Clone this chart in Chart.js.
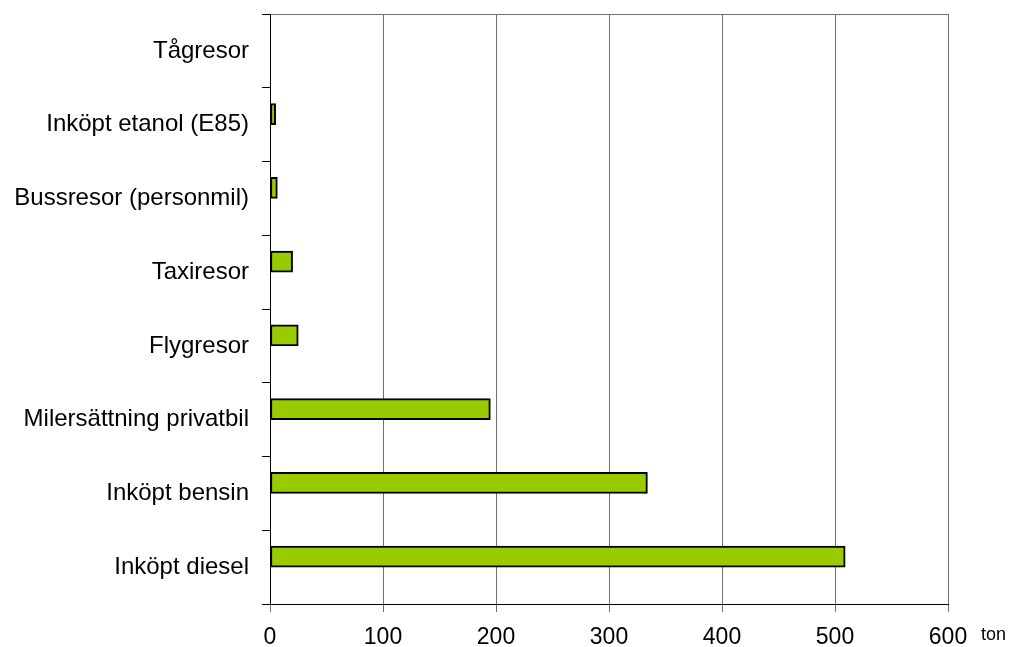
<!DOCTYPE html>
<html lang="sv">
<head>
<meta charset="utf-8">
<title>Utsläpp per källa</title>
<script src="https://cdn.jsdelivr.net/npm/chart.js@4/dist/chart.umd.min.js"></script>
<style>
  html, body { margin: 0; padding: 0; background: #fff; }
  #wrap { width: 1013px; height: 647px; position: relative; }
</style>
</head>
<body>
<div id="wrap"><canvas id="c" width="1013" height="647"></canvas></div>
<script>
// Emission sources, listed top to bottom
const categories = [
  'Tågresor',
  'Inköpt etanol (E85)',
  'Bussresor (personmil)',
  'Taxiresor',
  'Flygresor',
  'Milersättning privatbil',
  'Inköpt bensin',
  'Inköpt diesel'
];
// Emissions in ton
const values = [0, 5, 6.5, 20, 25, 195, 334, 509];
// Second series slot, left empty (bars sit in the upper half of each row)
const emptySeries = [];
// Value axis ticks
const xTicks = [0, 100, 200, 300, 400, 500, 600];
const unitLabel = 'ton';

const FONT = "'Liberation Sans', Arial, sans-serif";

// Unit text placed just right of the value axis end
const unitPlugin = {
  id: 'unitLabel',
  afterDraw(chart) {
    const { ctx, chartArea } = chart;
    ctx.save();
    ctx.font = '18px ' + FONT;
    ctx.fillStyle = '#000';
    ctx.textBaseline = 'alphabetic';
    ctx.textAlign = 'left';
    ctx.fillText(unitLabel, chartArea.right + 33, chartArea.bottom + 36);
    ctx.restore();
  }
};

new Chart(document.getElementById('c'), {
  type: 'bar',
  data: {
    labels: categories,
    datasets: [{
      data: values,
      backgroundColor: '#99CC00',
      borderColor: '#000',
      borderWidth: 2,
      borderSkipped: false,
      barThickness: 21
    }, {
      data: emptySeries,
      backgroundColor: 'rgba(0,0,0,0)',
      borderWidth: 0,
      barThickness: 21
    }]
  },
  options: {
    indexAxis: 'y',
    responsive: false,
    animation: false,
    layout: { padding: { left: 0, right: 65, top: 14, bottom: 0 } },
    plugins: {
      legend: { display: false },
      tooltip: { enabled: false }
    },
    scales: {
      x: {
        min: 0,
        max: 600,
        afterBuildTicks(scale) { scale.ticks = xTicks.map(v => ({ value: v })); },
        afterFit(scale) {
          scale.height = 43;
          scale.paddingLeft = 0;
          scale.paddingRight = 0;
        },
        border: { display: true, color: '#000', width: 1 },
        grid: {
          color: '#707070',
          lineWidth: 1,
          tickLength: 8,
          drawTicks: true
        },
        ticks: {
          color: '#000',
          font: { family: FONT, size: 23 },
          padding: 12,
          maxRotation: 0
        }
      },
      y: {
        afterFit(scale) {
          scale.width = 270;
          scale.paddingTop = 0;
          scale.paddingBottom = 0;
        },
        border: { display: true, color: '#000', width: 1 },
        grid: {
          offset: true,
          drawOnChartArea: true,
          color: (ctx) => (ctx.index === 0 ? '#707070' : 'rgba(0,0,0,0)'),
          tickColor: '#000',
          tickLength: 8
        },
        ticks: {
          color: '#000',
          font: { family: FONT, size: 24 },
          padding: 13
        }
      }
    }
  },
  plugins: [unitPlugin]
});
</script>
</body>
</html>
